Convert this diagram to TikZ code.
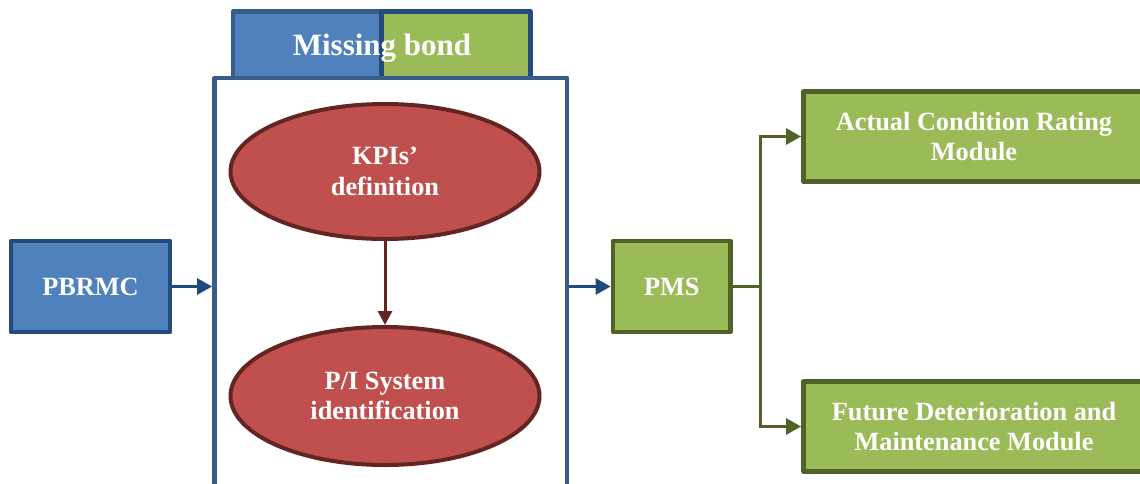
\documentclass[tikz,border=0pt]{standalone}
\usepackage{fontspec}
\setmainfont{Liberation Serif}
\usetikzlibrary{shapes.geometric,arrows.meta}
\definecolor{bfill}{HTML}{4F81BD}
\definecolor{bline}{HTML}{385D8A}
\definecolor{bdark}{HTML}{254B7E}
\definecolor{barrow}{HTML}{1F497D}
\definecolor{gfill}{HTML}{9BBB59}
\definecolor{gline}{HTML}{4F6228}
\definecolor{rfill}{HTML}{C0504D}
\definecolor{rline}{HTML}{632523}
\tikzset{
  lbl/.style={text=white,font=\fontsize{26.3}{30.5}\selectfont\bfseries,align=center},
  bluebox/.style={rectangle,draw=bdark,fill=bfill,line width=4.8pt,line join=round,inner sep=0pt,lbl},
  greenbox/.style={rectangle,draw=gline,fill=gfill,line width=4.8pt,line join=round,inner sep=0pt,lbl},
  redell/.style={ellipse,draw=rline,fill=rfill,line width=4pt,inner sep=0pt,lbl},
  barr/.style={draw=barrow,line width=3pt,-{Triangle[length=15pt,width=16pt]}},
  garr/.style={draw=gline,line width=3pt,-{Triangle[length=15pt,width=16pt]}},
  gln/.style={draw=gline,line width=3pt},
  rarr/.style={draw=rline,line width=3pt,-{Triangle[length=14pt,width=14pt]}},
}
\begin{document}
\begin{tikzpicture}[x=1pt,y=-1pt]
\useasboundingbox (0,0) rectangle (1140,483);
\clip (0,0) rectangle (1140,483);
% Missing bond tab
\node[rectangle,draw=bline,fill=bfill,line width=4.8pt,line join=round,inner sep=0pt,minimum width=148.5pt,minimum height=66.5pt] (mbl) at (307.25,44.75) {};
\node[rectangle,draw=bdark,fill=gfill,line width=4.8pt,line join=round,inner sep=0pt,minimum width=149pt,minimum height=66.5pt] (mbr) at (456,44.75) {};
\node[lbl,font=\fontsize{31}{36}\selectfont\bfseries] (mbt) at (382,48.5) {Missing bond};
% big container
\node[rectangle,draw=bline,fill=white,line width=4.8pt,line join=round,inner sep=0pt,minimum width=352.5pt,minimum height=462pt] (big) at (390.75,309) {};
% ellipses
\node[redell,minimum width=309pt,minimum height=135pt] (kpi) at (385,171.5) {KPIs’\\definition};
\node[redell,minimum width=309pt,minimum height=138pt] (pis) at (385,396) {P/I System\\identification};
\draw[rarr] (kpi.south) -- (pis.north);
% left box
\node[bluebox,minimum width=159pt,minimum height=91pt] (pbrmc) at (90.5,286.5) {PBRMC};
\draw[barr] (pbrmc.east) -- (pbrmc.east -| big.west);
% PMS
\node[greenbox,minimum width=117.5pt,minimum height=91pt] (pms) at (671.75,286.5) {PMS};
\draw[barr] (pms.west -| big.east) -- (pms.west);
% right modules
\node[greenbox,minimum width=341pt,minimum height=90pt] (acr) at (974,136.5) {Actual Condition Rating\\Module};
\node[greenbox,minimum width=341pt,minimum height=90pt] (fdm) at (974,426.5) {Future Deterioration and\\Maintenance Module};
\coordinate (j) at (760,286.5);
\draw[gln] (pms.east) -- (j);
\draw[garr] (j) |- (acr.west);
\draw[garr] (j) |- (fdm.west);
\end{tikzpicture}
\end{document}
